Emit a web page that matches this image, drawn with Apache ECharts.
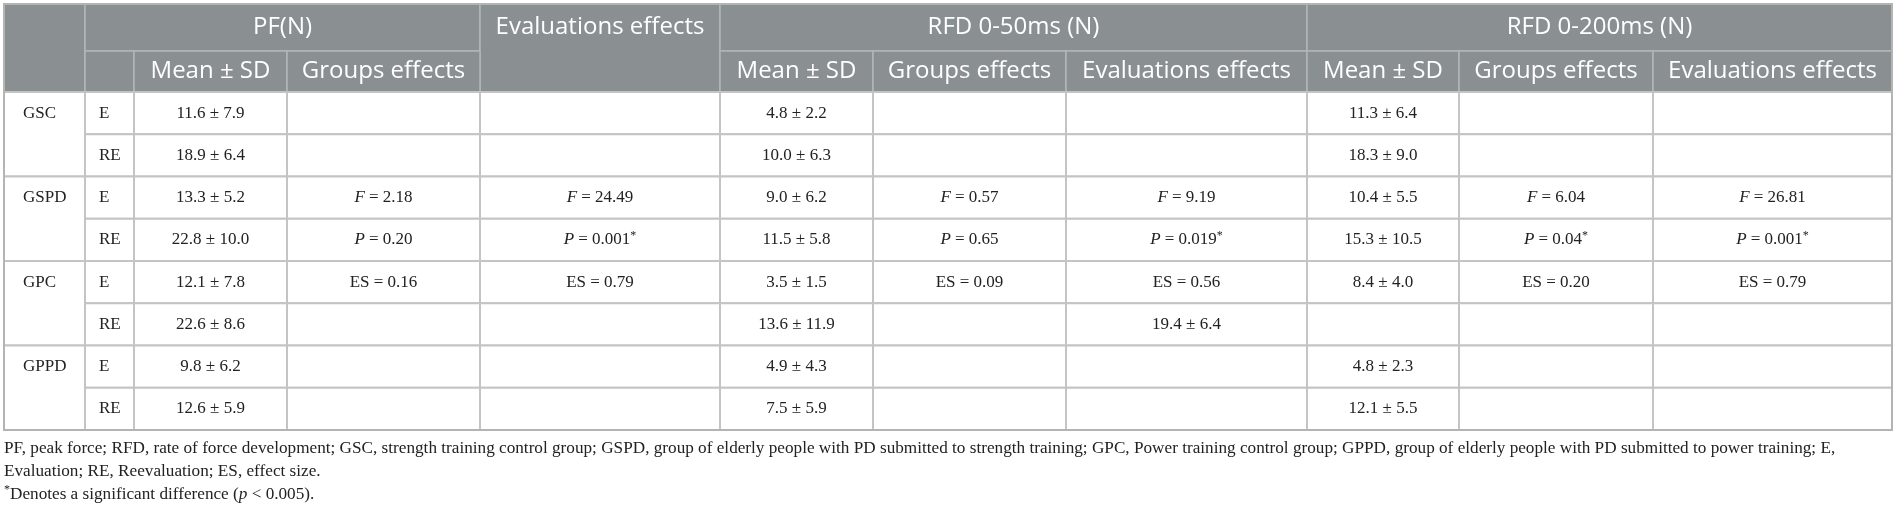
<!DOCTYPE html>
<html>
<head>
<meta charset="utf-8">
<script src="https://cdn.jsdelivr.net/npm/echarts@6/dist/echarts.min.js"></script>
<style>
  html, body { margin: 0; padding: 0; background: #fff; }
  #main { width: 1901px; height: 514px; }
</style>
</head>
<body>
<div id="main"></div>
<script>
// ---- data ----
const groups = ['GSC', 'GSPD', 'GPC', 'GPPD'];
const evals = ['E', 'RE'];
const measures = ['PF(N)', 'RFD 0-50ms (N)', 'RFD 0-200ms (N)'];
const subHeads = ['Mean ± SD', 'Groups effects', 'Evaluations effects'];

// one entry per body row: GSC E, GSC RE, GSPD E, GSPD RE, GPC E, GPC RE, GPPD E, GPPD RE
const pfMean = ['11.6 ± 7.9', '18.9 ± 6.4', '13.3 ± 5.2', '22.8 ± 10.0', '12.1 ± 7.8', '22.6 ± 8.6', '9.8 ± 6.2', '12.6 ± 5.9'];
const pfGroups = ['', '', 'F = 2.18', 'P = 0.20', 'ES = 0.16', '', '', ''];
const pfEvals = ['', '', 'F = 24.49', 'P = 0.001*', 'ES = 0.79', '', '', ''];
const rfd50Mean = ['4.8 ± 2.2', '10.0 ± 6.3', '9.0 ± 6.2', '11.5 ± 5.8', '3.5 ± 1.5', '13.6 ± 11.9', '4.9 ± 4.3', '7.5 ± 5.9'];
const rfd50Groups = ['', '', 'F = 0.57', 'P = 0.65', 'ES = 0.09', '', '', ''];
const rfd50Evals = ['', '', 'F = 9.19', 'P = 0.019*', 'ES = 0.56', '19.4 ± 6.4', '', ''];
const rfd200Mean = ['11.3 ± 6.4', '18.3 ± 9.0', '10.4 ± 5.5', '15.3 ± 10.5', '8.4 ± 4.0', '', '4.8 ± 2.3', '12.1 ± 5.5'];
const rfd200Groups = ['', '', 'F = 6.04', 'P = 0.04*', 'ES = 0.20', '', '', ''];
const rfd200Evals = ['', '', 'F = 26.81', 'P = 0.001*', 'ES = 0.79', '', '', ''];

const footnotes = [
  'PF, peak force; RFD, rate of force development; GSC, strength training control group; GSPD, group of elderly people with PD submitted to strength training; GPC, Power training control group; GPPD, group of elderly people with PD submitted to power training; E,',
  'Evaluation; RE, Reevaluation; ES, effect size.',
  '{sup|*}Denotes a significant difference ({it|p} < 0.005).'
];

// ---- layout (table units = px inside the grid) ----
const colEdges = [0, 81, 130, 283, 476, 716, 869, 1062, 1303, 1455, 1649, 1888];
const headRows = [0, 47, 88];
const rowH = 42.25;
const bodyTop = headRows[2];
const tableW = colEdges[colEdges.length - 1];
const tableH = bodyTop + rowH * groups.length * evals.length;

const HEAD_FILL = '#8a8f92';
const HEAD_LINE = '#b2b6b8';
const BODY_LINE = '#c4c4c4';
const SERIF = '"Liberation Serif", "DejaVu Serif", serif';
const SANS = '"Open Sans", "Noto Sans", sans-serif';

// ---- build cells ----
const cells = [];
function cell(c0, c1, y0, y1, text, kind, align, textY, pad) {
  cells.push({ x0: colEdges[c0], x1: colEdges[c1], y0, y1, text, kind, align: align || 'center', textY, pad: pad || 0 });
}

// header
cell(0, 1, headRows[0], headRows[2], '', 'head');
cell(1, 4, headRows[0], headRows[1], measures[0], 'head');
cell(4, 5, headRows[0], headRows[2], subHeads[2], 'head', 'center', (headRows[0] + headRows[1]) / 2);
cell(5, 8, headRows[0], headRows[1], measures[1], 'head');
cell(8, 11, headRows[0], headRows[1], measures[2], 'head');
cell(1, 2, headRows[1], headRows[2], '', 'head');
cell(2, 3, headRows[1], headRows[2], subHeads[0], 'head');
cell(3, 4, headRows[1], headRows[2], subHeads[1], 'head');
[5, 8].forEach(function (c) {
  subHeads.forEach(function (s, i) { cell(c + i, c + i + 1, headRows[1], headRows[2], s, 'head'); });
});

// body
const columns = [pfMean, pfGroups, pfEvals, rfd50Mean, rfd50Groups, rfd50Evals, rfd200Mean, rfd200Groups, rfd200Evals];
groups.forEach(function (g, gi) {
  const gy = bodyTop + gi * 2 * rowH;
  cell(0, 1, gy, gy + 2 * rowH, g, 'body', 'left', gy + rowH / 2, 19);
  evals.forEach(function (e, ei) {
    const r = gi * 2 + ei;
    const y0 = bodyTop + r * rowH;
    cell(1, 2, y0, y0 + rowH, e, 'body', 'left', undefined, 14);
    columns.forEach(function (col, ci) {
      cell(ci + 2, ci + 3, y0, y0 + rowH, col[r], 'body');
    });
  });
});

function richText(s) {
  if (!s) return '';
  let t = s.replace(/\*/g, '{sup|*}');
  if (/^[FP] =/.test(t)) t = '{it|' + t[0] + '}' + t.slice(1);
  return t;
}

const chart = echarts.init(document.getElementById('main'), null, { renderer: 'canvas' });

chart.setOption({
  animation: false,
  backgroundColor: '#ffffff',
  grid: { left: 4, top: 4, width: tableW, height: tableH },
  xAxis: { type: 'value', min: 0, max: tableW, show: false },
  yAxis: { type: 'value', min: 0, max: tableH, inverse: true, show: false },
  graphic: footnotes.map(function (f, i) {
    return {
      type: 'text',
      x: 4,
      y: 448 + i * 23,
      style: {
        text: f,
        font: '17.2px ' + SERIF,
        fill: '#222',
        verticalAlign: 'middle',
        rich: {
          sup: { fontSize: 12, verticalAlign: 'top', fontFamily: SERIF, fill: '#222', lineHeight: 20 },
          it: { fontStyle: 'italic', fontSize: 17.2, fontFamily: SERIF, fill: '#222', lineHeight: 20 }
        }
      }
    };
  }),
  series: [
    {
      type: 'custom',
      coordinateSystem: 'cartesian2d',
      silent: true,
      clip: false,
      encode: { x: [0, 2], y: [1, 3] },
      data: cells.map(function (c) { return [c.x0, c.y0, c.x1, c.y1]; }),
      renderItem: function (params, api) {
        const c = cells[params.dataIndex];
        const a = api.coord([api.value(0), api.value(1)]);
        const b = api.coord([api.value(2), api.value(3)]);
        const head = c.kind === 'head';
        const ty = c.textY !== undefined ? api.coord([0, c.textY])[1] : (a[1] + b[1]) / 2;
        const tx = c.align === 'left' ? a[0] + c.pad : (a[0] + b[0]) / 2;
        return {
          type: 'group',
          children: [
            {
              type: 'rect',
              shape: { x: a[0], y: a[1], width: b[0] - a[0], height: b[1] - a[1] },
              style: { fill: head ? HEAD_FILL : '#ffffff', stroke: head ? HEAD_LINE : BODY_LINE, lineWidth: head ? 1.5 : 2 }
            },
            {
              type: 'text',
              style: {
                text: head ? c.text : richText(c.text),
                x: tx,
                y: ty,
                align: c.align,
                verticalAlign: 'middle',
                fontSize: head ? 24 : 17,
                fontFamily: head ? SANS : SERIF,
                fill: head ? '#ffffff' : '#222222',
                rich: head ? undefined : {
                  it: { fontStyle: 'italic', fontSize: 17, fontFamily: SERIF, fill: '#222222', lineHeight: 20 },
                  sup: { fontSize: 12, fontFamily: SERIF, fill: '#222222', verticalAlign: 'top', lineHeight: 20 }
                }
              }
            }
          ]
        };
      }
    },
    {
      // outer table border
      type: 'custom',
      coordinateSystem: 'cartesian2d',
      silent: true,
      clip: false,
      encode: { x: [0, 2], y: [1, 3] },
      data: [[0, 0, tableW, tableH]],
      renderItem: function (params, api) {
        const a = api.coord([api.value(0), api.value(1)]);
        const b = api.coord([api.value(2), api.value(3)]);
        return {
          type: 'rect',
          shape: { x: a[0], y: a[1], width: b[0] - a[0], height: b[1] - a[1] },
          style: { fill: 'none', stroke: '#b4b4b4', lineWidth: 2 }
        };
      }
    }
  ]
});
</script>
</body>
</html>
